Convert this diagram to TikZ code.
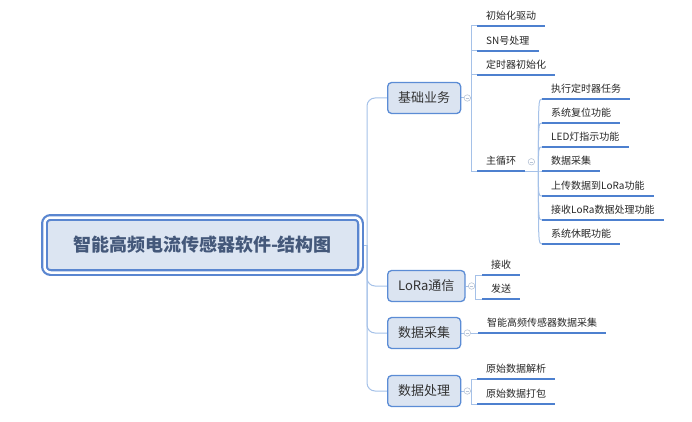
\documentclass[tikz,border=0pt]{standalone}
\usepackage{fontspec}
\newfontfamily\cjk{Noto Sans CJK SC}
\definecolor{connc}{HTML}{A5C1E8}
\definecolor{ulc}{HTML}{4D80CF}
\definecolor{lvbd}{HTML}{5B8CD5}
\definecolor{lvfill}{HTML}{DBE4F1}
\definecolor{rootbd}{HTML}{5A86D0}
\definecolor{rootfill}{HTML}{DCE5F2}
\definecolor{roottext}{HTML}{44587A}
\definecolor{foldc}{HTML}{B8C4D6}
\pgfdeclarelayer{bg}
\pgfsetlayers{bg,main}
\tikzset{
  conn/.style={draw=connc, line width=1pt},
  uline/.style={draw=ulc, line width=2pt},
  rootbox/.style={draw=rootbd, line width=2.2pt, double=white, double distance=2.5pt,
    fill=rootfill, rounded corners=6pt, minimum width=316pt, minimum height=55pt,
    inner sep=0pt, font=\cjk\bfseries\fontsize{18}{20}\selectfont, text=roottext},
  lvone/.style={draw=lvbd, line width=1.3pt, fill=lvfill, rounded corners=4pt,
    anchor=west, minimum width=73pt, minimum height=31pt, inner xsep=10.5pt,
    font=\cjk\fontsize{13}{15}\selectfont, text=black!80},
  leaf/.style={anchor=south west, inner xsep=9pt, inner ysep=4.5pt,
    text height=7.5pt, text depth=1.5pt, font=\cjk\fontsize{10}{12}\selectfont, text=black!85},
  fold/.style={circle, draw=foldc, fill=white, line width=0.6pt, minimum size=6.5pt, inner sep=0pt,
    path picture={\draw[foldc, line width=0.6pt] ([xshift=-1.8pt]path picture bounding box.center) -- ([xshift=1.8pt]path picture bounding box.center);}}
}
\begin{document}
\begin{tikzpicture}[x=1pt, y=-1pt]
\useasboundingbox (0,0) rectangle (692,422);
% root
\node[rootbox] (root) at (202.5,245) {智能高频电流传感器软件-结构图};
\coordinate (tr) at (367,245);
% level 1
\node[lvone] (n1) at (387,98) {基础业务};
\node[lvone] (n2) at (387,286) {LoRa通信};
\node[lvone] (n3) at (387,333) {数据采集};
\node[lvone] (n4) at (387,391) {数据处理};
% leaves of n1
\node[leaf] (a1) at (477,26) {初始化驱动};
\node[leaf] (a2) at (477,51) {SN号处理};
\node[leaf] (a3) at (477,75) {定时器初始化};
\node[leaf] (a4) at (477,171) {主循环};
% leaves of main loop
\node[leaf] (m1) at (542,99) {执行定时器任务};
\node[leaf] (m2) at (542,123) {系统复位功能};
\node[leaf] (m3) at (542,147) {LED灯指示功能};
\node[leaf] (m4) at (542,171) {数据采集};
\node[leaf] (m5) at (542,196) {上传数据到LoRa功能};
\node[leaf] (m6) at (542,220) {接收LoRa数据处理功能};
\node[leaf] (m7) at (542,244) {系统休眠功能};
% leaves of n2, n3, n4
\node[leaf] (b1) at (482,275) {接收};
\node[leaf] (b2) at (482,299) {发送};
\node[leaf] (c1) at (478,333) {智能高频传感器数据采集};
\node[leaf] (d1) at (477,379) {原始数据解析};
\node[leaf] (d2) at (477,404) {原始数据打包};
% underlines
\foreach \n in {a1,a2,a3,a4,m1,m2,m3,m4,m5,m6,m7,b1,b2,c1,d1,d2}
  \draw[uline] (\n.south west) -- (\n.south east);
% connectors
\begin{pgfonlayer}{bg}
  \draw[conn] (root.east) -- (tr);
  \foreach \n in {n1,n2,n3,n4}
    \draw[conn, rounded corners=8pt] (tr) |- (\n.west);
  \coordinate (k1) at ([xshift=10pt]n1.east);
  \foreach \n in {a1,a2,a3,a4}
    \draw[conn] (n1.east) -- (k1) |- (\n.south west);
  \coordinate (k2) at ([xshift=10pt]n2.east);
  \foreach \n in {b1,b2}
    \draw[conn] (n2.east) -- (k2) |- (\n.south west);
  \draw[conn] (n3.east) -- (c1.south west);
  \coordinate (k4) at ([xshift=10pt]n4.east);
  \foreach \n in {d1,d2}
    \draw[conn] (n4.east) -- (k4) |- (\n.south west);
  \coordinate (hub) at ([xshift=13pt]a4.south east);
  \draw[conn] (a4.south east) -- (hub);
  \foreach \n in {m1,m2,m3,m4,m5,m6,m7}
    \draw[conn] (hub) .. controls (hub |- \n.south west) .. (\n.south west);
\end{pgfonlayer}
% fold markers
\node[fold] (f1) at ([xshift=6pt]n1.east) {};
\node[fold] (f2) at ([xshift=6pt]n2.east) {};
\node[fold] (f3) at ([xshift=6pt]n3.east) {};
\node[fold] (f4) at ([xshift=6pt]n4.east) {};
\node[fold] (f5) at ([xshift=6pt]a4.east) {};
\end{tikzpicture}
\end{document}
